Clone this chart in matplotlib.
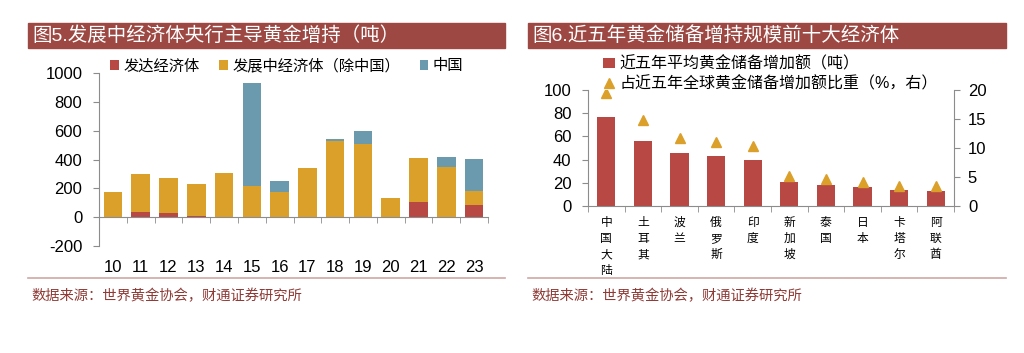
import numpy as np
import matplotlib
matplotlib.use("Agg")
import matplotlib.pyplot as plt
from matplotlib.patches import Rectangle
from matplotlib.lines import Line2D
from matplotlib.ticker import FixedLocator

plt.rcParams['font.family'] = ['Liberation Sans', 'Noto Sans CJK SC', 'DejaVu Sans']
plt.rcParams['axes.unicode_minus'] = False

# ---- figure 5 data (tonnes) ----
years = ["10", "11", "12", "13", "14", "15", "16", "17", "18", "19", "20", "21", "22", "23"]
developed = [0, 37, 26, 9, 0, 0, 0, 0, 0, 0, 0, 107, 0, 86]
developing_ex_china = [177, 265, 248, 224, 309, 219, 172, 344, 526, 505, 135, 300, 351, 93]
china = [0, 0, 0, 0, 0, 711, 79, 0, 14, 95, 0, 0, 68, 223]

# ---- figure 6 data ----
countries = ["中\n国\n大\n陆", "土\n耳\n其", "波\n兰", "俄\n罗\n斯", "印\n度",
             "新\n加\n坡", "泰\n国", "日\n本", "卡\n塔\n尔", "阿\n联\n酋"]
avg_add = [77, 56.3, 45.4, 43.4, 40, 20.6, 17.7, 16, 13.5, 13]
share_pct = [19.5, 14.8, 11.7, 11.0, 10.3, 5.1, 4.6, 4.1, 3.5, 3.4]

RED = "#B84843"
ORANGE = "#DBA02A"
BLUE = "#6B9AAF"
TITLE_BG = "#9D4843"
AXIS_GREY = "#8C8C8C"
SRC_COLOR = "#8E3A35"

fig = plt.figure(figsize=(10.24, 3.53), dpi=100)
W, H = 1024, 353


def fx(px):
    return px / W


def fy(py):
    return 1 - py / H


def panel_frame(x0, x1, title):
    # title bar
    fig.patches.append(Rectangle((fx(x0), fy(48)), fx(x1 - x0), (48 - 23) / H,
                                 transform=fig.transFigure, color=TITLE_BG, zorder=0))
    fig.text(fx(x0 + 4), fy(35.5), title, color="white", fontsize=14,
             va="center", ha="left")
    # separator + source
    fig.add_artist(Line2D([fx(x0), fx(x1)], [fy(277.5), fy(277.5)],
                          transform=fig.transFigure, color="#CFA7A4", lw=1.2))
    fig.text(fx(x0 + 3), fy(296), "数据来源：世界黄金协会，财通证券研究所",
             color=SRC_COLOR, fontsize=10.3, va="center", ha="left")


panel_frame(28, 505, "图5.发展中经济体央行主导黄金增持（吨）")
panel_frame(528, 1006, "图6.近五年黄金储备增持规模前十大经济体")

# ---- left chart ----
ax = fig.add_axes([fx(99), fy(246), fx(488 - 99), (246 - 73) / H])
x = np.arange(len(years))
bw = 0.67
dev = np.array(developed)
ding = np.array(developing_ex_china)
chn = np.array(china)
ax.bar(x, dev, bw, color=RED, label="发达经济体")
ax.bar(x, ding, bw, bottom=dev, color=ORANGE, label="发展中经济体（除中国）")
ax.bar(x, chn, bw, bottom=dev + ding, color=BLUE, label="中国")
ax.set_xlim(-0.5, len(years) - 0.5)
ax.set_ylim(-200, 1000)
ax.set_yticks(range(-200, 1001, 200))
ax.set_xticks(x)
ax.set_xticklabels(years)
ax.xaxis.set_minor_locator(FixedLocator(np.arange(-0.5, len(years), 1)))
for s in ["top", "right"]:
    ax.spines[s].set_visible(False)
ax.spines["bottom"].set_position(("data", 0))
ax.spines["bottom"].set_color(AXIS_GREY)
ax.spines["left"].set_color(AXIS_GREY)
ax.tick_params(axis="y", direction="out", length=4, color=AXIS_GREY, labelsize=12, pad=8)
ax.tick_params(axis="x", which="major", length=0, labelsize=12, pad=31)
ax.tick_params(axis="x", which="minor", direction="out", length=4, color=AXIS_GREY)
fig.legend(*ax.get_legend_handles_labels(), loc="center left",
           bbox_to_anchor=(fx(104), fy(66)), ncol=3, frameon=False,
           fontsize=11, handlelength=0.55, handleheight=0.55, handletextpad=0.3,
           columnspacing=1.3, borderaxespad=0)

# ---- right chart ----
ax2 = fig.add_axes([fx(588), fy(206), fx(954 - 588), (206 - 90) / H])
xc = np.arange(len(countries))
ax2.bar(xc, avg_add, 0.5, color=RED, label="近五年平均黄金储备增加额（吨）")
ax2.set_xlim(-0.5, len(countries) - 0.5)
ax2.set_ylim(0, 100)
ax2.set_yticks(range(0, 101, 20))
ax2.set_xticks(xc)
ax2.set_xticklabels(countries, fontsize=8.5, linespacing=1.45, va="top")
ax2.xaxis.set_minor_locator(FixedLocator(np.arange(-0.5, len(countries), 1)))
ax2.spines["top"].set_visible(False)
ax2.spines["right"].set_visible(False)
for s in ["bottom", "left"]:
    ax2.spines[s].set_color(AXIS_GREY)
ax2.tick_params(axis="y", direction="out", length=4, color=AXIS_GREY, labelsize=12, pad=8)
ax2.tick_params(axis="x", which="major", length=0, pad=8)
ax2.tick_params(axis="x", which="minor", direction="out", length=4, color=AXIS_GREY)

ax3 = ax2.twinx()
ax3.plot(xc, share_pct, linestyle="none", marker="^", markersize=7,
         color=ORANGE, label="占近五年全球黄金储备增加额比重（%，右）")
ax3.set_ylim(0, 20)
ax3.set_yticks(range(0, 21, 5))
for s in ["top", "left", "bottom"]:
    ax3.spines[s].set_visible(False)
ax3.spines["right"].set_color(AXIS_GREY)
ax3.tick_params(axis="y", direction="out", length=4, color=AXIS_GREY, labelsize=12, pad=6)

h1, l1 = ax2.get_legend_handles_labels()
h2, l2 = ax3.get_legend_handles_labels()
fig.legend(h1 + h2, l1 + l2, loc="upper left", bbox_to_anchor=(fx(597), fy(50)),
           frameon=False, fontsize=11.5, handlelength=0.7, handleheight=0.6,
           handletextpad=0.3, labelspacing=0.25, borderaxespad=0)

fig.savefig("out.png", dpi=100)
